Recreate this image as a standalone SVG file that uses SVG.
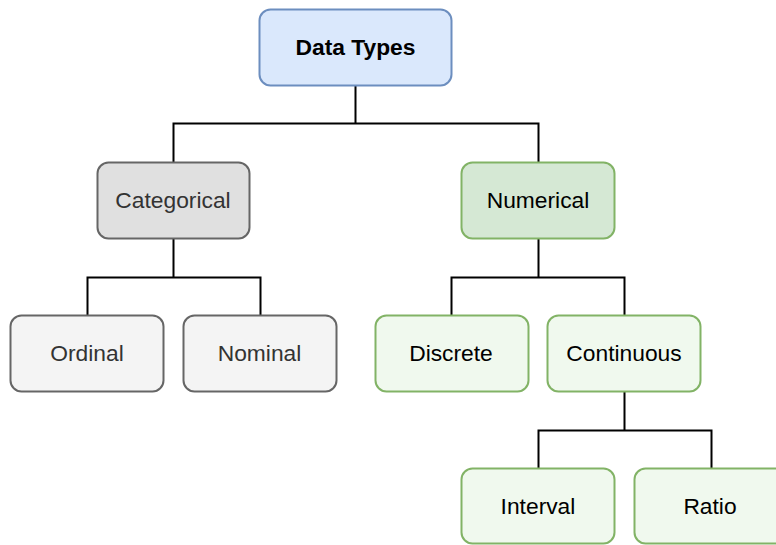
<svg xmlns="http://www.w3.org/2000/svg" width="776" height="545" viewBox="0 0 776 545">
<style>
.box{stroke-width:2}
.blue{fill:#dae8fc;stroke:#6c8ebf}
.gray{fill:#e0e0e0;stroke:#666666}
.lgray{fill:#f4f4f4;stroke:#666666}
.green{fill:#d5e8d4;stroke:#82b366}
.lgreen{fill:#f0f9ee;stroke:#82b366}
text{font-family:"Liberation Sans",Arial,sans-serif;font-size:22.8px;text-anchor:middle}
.dark{fill:#000}
.mid{fill:#333333}
.b{font-weight:bold}
.conn{fill:none;stroke:#000;stroke-width:2}
</style>
<rect width="776" height="545" fill="#ffffff"/>
<g id="connectors">
<path class="conn" d="M355.5 85V123.5H173.5V162M355.5 123.5H538.5V162"/>
<path class="conn" d="M173.5 239V277.5H87.5V315M173.5 277.5H260.5V315"/>
<path class="conn" d="M538.5 239V277.5H451.5V315M538.5 277.5H624.5V315"/>
<path class="conn" d="M624.5 392V430.5H538.5V468M624.5 430.5H711.5V468"/>
</g>
<g id="data-types"><rect class="box blue" x="259.5" y="9.5" width="192" height="76" rx="11"/><text class="dark b" x="355.5" y="54.5">Data Types</text></g>
<g id="categorical"><rect class="box gray" x="97.5" y="162.5" width="152" height="76" rx="11"/><text class="mid" x="173" y="208">Categorical</text></g>
<g id="numerical"><rect class="box green" x="461.5" y="162.5" width="153" height="76" rx="11"/><text class="dark" x="538" y="208">Numerical</text></g>
<g id="ordinal"><rect class="box lgray" x="10.5" y="315.5" width="153" height="76" rx="11"/><text class="mid" x="87" y="361">Ordinal</text></g>
<g id="nominal"><rect class="box lgray" x="183.5" y="315.5" width="153" height="76" rx="11"/><text class="mid" x="259.5" y="361">Nominal</text></g>
<g id="discrete"><rect class="box lgreen" x="375.5" y="315.5" width="153" height="76" rx="11"/><text class="dark" x="451" y="361">Discrete</text></g>
<g id="continuous"><rect class="box lgreen" x="547.5" y="315.5" width="153" height="76" rx="11"/><text class="dark" x="624" y="361">Continuous</text></g>
<g id="interval"><rect class="box lgreen" x="461.5" y="468.5" width="153" height="75" rx="11"/><text class="dark" x="538" y="514">Interval</text></g>
<g id="ratio"><rect class="box lgreen" x="634.5" y="468.5" width="153" height="75" rx="11"/><text class="dark" x="710" y="514">Ratio</text></g>
</svg>
